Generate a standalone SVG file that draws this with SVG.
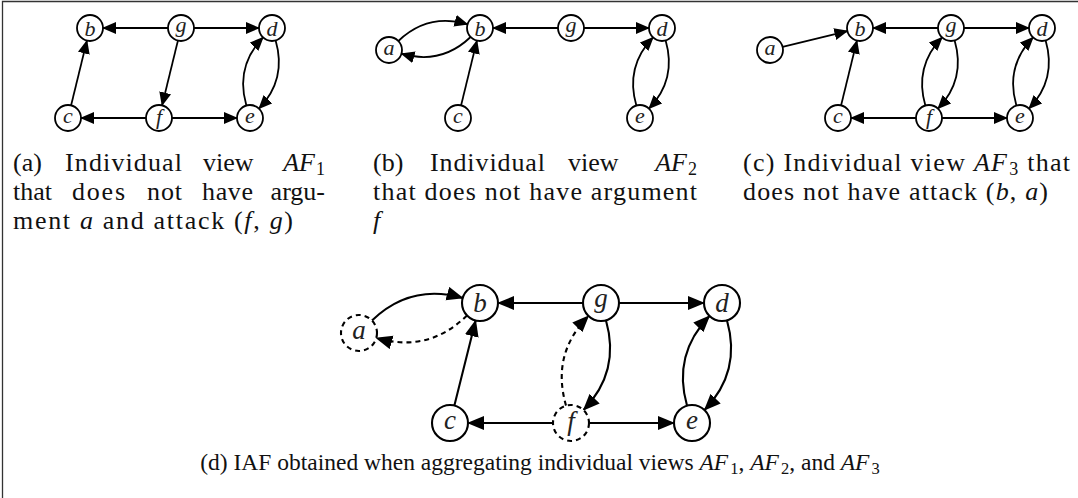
<svg xmlns="http://www.w3.org/2000/svg" width="1078" height="498" viewBox="0 0 1078 498">
<style>
.n{fill:#fff;stroke:#000;stroke-width:1.8}
.nL{fill:#fff;stroke:#000;stroke-width:2.1}
.dash{stroke-dasharray:5 4}
.e{fill:none;stroke:#000;stroke-width:1.8;marker-end:url(#ah)}
.eL{fill:none;stroke:#000;stroke-width:2.1;marker-end:url(#ahL)}
.lbl{font-family:"Liberation Serif",serif;font-style:italic;font-size:22px;text-anchor:middle;fill:#222}
.lblL{font-family:"Liberation Serif",serif;font-style:italic;font-size:27px;text-anchor:middle;fill:#222}
.cap{font-family:"Liberation Serif",serif;font-size:26px;fill:#111}
.m{font-style:italic}
.frame{stroke:#333;stroke-width:1.3;fill:none}
</style>
<defs>
<marker id="ah" markerUnits="userSpaceOnUse" markerWidth="16" markerHeight="14" refX="13" refY="6" orient="auto"><path d="M0,0 L14,6 L0,12 z" fill="#000"/></marker>
<marker id="ahL" markerUnits="userSpaceOnUse" markerWidth="19" markerHeight="16" refX="16" refY="7" orient="auto"><path d="M0,0 L17,7 L0,14 z" fill="#000"/></marker>
</defs>
<path class="frame" d="M2.5,498 L2.5,1.5 L1078,1.5"/>

<g id="connectors">
<path class="e" d="M168,28 L103,28"/>
<path class="e" d="M194,28 L259,28"/>
<path class="e" d="M146,118 L81,118"/>
<path class="e" d="M172,118 L237,118"/>
<path class="e" transform="translate(181,28)" d="M-3.09,12.63 L-18.91,77.37"/>
<path class="e" transform="translate(90,28)" d="M-18.91,77.37 L-3.09,12.63"/>
<path class="e" transform="translate(272,28)" d="M-25.64,77.52 C-33.34,51.12 -28.01,29.26 -8.99,9.39"/>
<path class="e" transform="translate(272,28)" d="M3.64,12.48 C11.34,38.88 6.01,60.74 -13.01,80.61"/>
<path class="e" d="M398.4,41 C418.5,21.8 440.8,16.5 467.5,24.3"/>
<path class="e" d="M470.6,37 C450.5,56.2 428.2,61.5 401.5,53.7"/>
<path class="e" d="M558,28 L493,28"/>
<path class="e" d="M584,28 L649,28"/>
<path class="e" transform="translate(480,28)" d="M-18.91,77.37 L-3.09,12.63"/>
<path class="e" transform="translate(662,28)" d="M-25.64,77.52 C-33.34,51.12 -28.01,29.26 -8.99,9.39"/>
<path class="e" transform="translate(662,28)" d="M3.64,12.48 C11.34,38.88 6.01,60.74 -13.01,80.61"/>
<path class="e" d="M782.6,46.9 L847.4,31.1"/>
<path class="e" d="M938,28 L873,28"/>
<path class="e" d="M964,28 L1029,28"/>
<path class="e" d="M916,118 L851,118"/>
<path class="e" d="M942,118 L1007,118"/>
<path class="e" transform="translate(860,28)" d="M-18.91,77.37 L-3.09,12.63"/>
<path class="e" transform="translate(951,28)" d="M-25.64,77.52 C-33.34,51.12 -28.01,29.26 -8.99,9.39"/>
<path class="e" transform="translate(951,28)" d="M3.64,12.48 C11.34,38.88 6.01,60.74 -13.01,80.61"/>
<path class="e" transform="translate(1042,28)" d="M-25.64,77.52 C-33.34,51.12 -28.01,29.26 -8.99,9.39"/>
<path class="e" transform="translate(1042,28)" d="M3.64,12.48 C11.34,38.88 6.01,60.74 -13.01,80.61"/>
<path class="eL" d="M371.96,320.51 C398.32,295.12 427.53,287.89 462.7,298.02"/>
<path class="eL dash" d="M467.04,315.49 C440.68,340.88 411.47,348.11 376.3,337.98"/>
<path class="eL" d="M583,303 L498,303"/>
<path class="eL" d="M619,303 L704,303"/>
<path class="eL" d="M553,423 L468,423"/>
<path class="eL" d="M589,423 L674,423"/>
<path class="eL" transform="translate(480,303)" d="M-25.63,102.54 L-4.37,17.46"/>
<path class="eL dash" transform="translate(601,303)" d="M-34.95,102.69 C-44.91,67.89 -37.69,38.94 -12.52,12.93"/>
<path class="eL" transform="translate(601,303)" d="M4.95,17.31 C14.91,52.11 7.69,81.06 -17.48,107.07"/>
<path class="eL" transform="translate(722,303)" d="M-34.95,102.69 C-44.91,67.89 -37.69,38.94 -12.52,12.93"/>
<path class="eL" transform="translate(722,303)" d="M4.95,17.31 C14.91,52.11 7.69,81.06 -17.48,107.07"/>
</g>

<g id="a-b"><circle class="n" cx="90" cy="28" r="13"/><text class="lbl" x="90" y="35.5">b</text></g>
<g id="a-g"><circle class="n" cx="181" cy="28" r="13"/><text class="lbl" x="181" y="31.5">g</text></g>
<g id="a-d"><circle class="n" cx="272" cy="28" r="13"/><text class="lbl" x="272" y="35.5">d</text></g>
<g id="a-c"><circle class="n" cx="68" cy="118" r="13"/><text class="lbl" x="68" y="123">c</text></g>
<g id="a-f"><circle class="n" cx="159" cy="118" r="13"/><text class="lbl" x="159" y="123.5">f</text></g>
<g id="a-e"><circle class="n" cx="250" cy="118" r="13"/><text class="lbl" x="250" y="123">e</text></g>

<g id="b-a"><circle class="n" cx="389" cy="50" r="13"/><text class="lbl" x="389" y="55">a</text></g>
<g id="b-b"><circle class="n" cx="480" cy="28" r="13"/><text class="lbl" x="480" y="35.5">b</text></g>
<g id="b-g"><circle class="n" cx="571" cy="28" r="13"/><text class="lbl" x="571" y="31.5">g</text></g>
<g id="b-d"><circle class="n" cx="662" cy="28" r="13"/><text class="lbl" x="662" y="35.5">d</text></g>
<g id="b-c"><circle class="n" cx="458" cy="118" r="13"/><text class="lbl" x="458" y="123">c</text></g>
<g id="b-e"><circle class="n" cx="640" cy="118" r="13"/><text class="lbl" x="640" y="123">e</text></g>

<g id="c-a"><circle class="n" cx="770" cy="50" r="13"/><text class="lbl" x="770" y="55">a</text></g>
<g id="c-b"><circle class="n" cx="860" cy="28" r="13"/><text class="lbl" x="860" y="35.5">b</text></g>
<g id="c-g"><circle class="n" cx="951" cy="28" r="13"/><text class="lbl" x="951" y="31.5">g</text></g>
<g id="c-d"><circle class="n" cx="1042" cy="28" r="13"/><text class="lbl" x="1042" y="35.5">d</text></g>
<g id="c-c"><circle class="n" cx="838" cy="118" r="13"/><text class="lbl" x="838" y="123">c</text></g>
<g id="c-f"><circle class="n" cx="929" cy="118" r="13"/><text class="lbl" x="929" y="123.5">f</text></g>
<g id="c-e"><circle class="n" cx="1020" cy="118" r="13"/><text class="lbl" x="1020" y="123">e</text></g>

<g id="d-a"><circle class="nL dash" cx="359" cy="333" r="18"/><text class="lblL" x="359" y="339">a</text></g>
<g id="d-b"><circle class="nL" cx="480" cy="303" r="18"/><text class="lblL" x="480" y="312">b</text></g>
<g id="d-g"><circle class="nL" cx="601" cy="303" r="18"/><text class="lblL" x="601" y="307">g</text></g>
<g id="d-d"><circle class="nL" cx="722" cy="303" r="18"/><text class="lblL" x="722" y="312">d</text></g>
<g id="d-c"><circle class="nL" cx="450" cy="423" r="18"/><text class="lblL" x="450" y="429">c</text></g>
<g id="d-f"><circle class="nL dash" cx="571" cy="423" r="18"/><text class="lblL" x="571" y="429.5">f</text></g>
<g id="d-e"><circle class="nL" cx="692" cy="423" r="18"/><text class="lblL" x="692" y="429">e</text></g>

<g id="captions" class="cap">
<text x="13" y="171">(a)</text>
<text x="65" y="171" textLength="117" lengthAdjust="spacing">Individual</text>
<text x="203" y="171">view</text>
<text x="325" y="171" text-anchor="end"><tspan class="m">AF</tspan><tspan font-size="18" dx="1" dy="4">1</tspan></text>
<text x="13" y="200">that</text>
<text x="72" y="200" textLength="53" lengthAdjust="spacing">does</text>
<text x="147" y="200" textLength="35" lengthAdjust="spacing">not</text>
<text x="202" y="200" textLength="51" lengthAdjust="spacing">have</text>
<text x="325" y="200" text-anchor="end">argu-</text>
<text x="13" y="229" textLength="280" lengthAdjust="spacing">ment <tspan class="m">a</tspan> and attack (<tspan class="m">f</tspan>, <tspan class="m">g</tspan>)</text>

<text x="373" y="171">(b)</text>
<text x="430" y="171" textLength="115" lengthAdjust="spacing">Individual</text>
<text x="568" y="171">view</text>
<text x="697" y="171" text-anchor="end"><tspan class="m">AF</tspan><tspan font-size="18" dx="1" dy="4">2</tspan></text>
<text x="373" y="200" textLength="324" lengthAdjust="spacing">that does not have argument</text>
<text x="373" y="229" class="m">f</text>

<text x="743" y="171" textLength="327" lengthAdjust="spacing">(c) Individual view <tspan class="m">AF</tspan><tspan font-size="18" dx="1" dy="4">3</tspan><tspan dy="-4"> that</tspan></text>
<text x="743" y="200" textLength="305" lengthAdjust="spacing">does not have attack (<tspan class="m">b</tspan>, <tspan class="m">a</tspan>)</text>

<text x="540" y="470" text-anchor="middle" font-size="23.5">(d) IAF obtained when aggregating individual views <tspan class="m">AF</tspan><tspan font-size="16.5" dx="2" dy="4">1</tspan><tspan dy="-4">, </tspan><tspan class="m">AF</tspan><tspan font-size="16.5" dx="2" dy="4">2</tspan><tspan dy="-4">, and </tspan><tspan class="m">AF</tspan><tspan font-size="16.5" dx="2" dy="4">3</tspan></text>
</g>
</svg>
